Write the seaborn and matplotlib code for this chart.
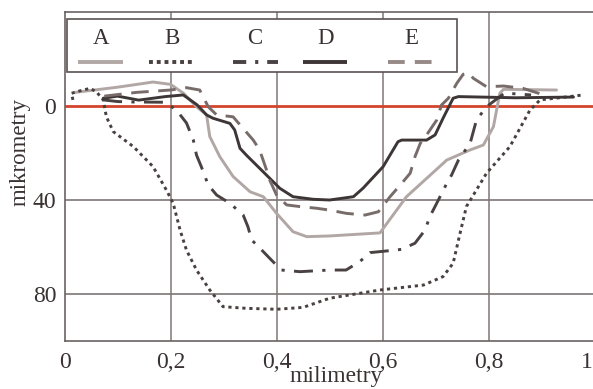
import numpy as np
import pandas as pd
import seaborn as sns
import matplotlib
matplotlib.use("Agg")
import matplotlib.pyplot as plt
import matplotlib.transforms as mtransforms
from matplotlib.lines import Line2D
from matplotlib.patches import Rectangle

# ---------------- data ----------------
series_names = ["A", "B", "C", "D", "E"]

A_x = [0.02, 0.1, 0.167, 0.2, 0.224, 0.249, 0.268, 0.274, 0.293, 0.318, 0.35, 0.375, 0.4, 0.431, 0.457, 0.5,
       0.595, 0.645, 0.721, 0.765, 0.79, 0.809, 0.821, 0.828, 0.928]
A_y = [-5.8, -8.0, -10.2, -9.2, -5.5, 0.3, 3.8, 13.0, 21.6, 30.0, 36.5, 38.6, 45.7, 53.5, 55.6, 55.3,
       54.0, 38.6, 23.0, 18.7, 16.6, 8.8, -5.4, -7.1, -6.8]

B_x = [0.016, 0.013, 0.03, 0.048, 0.06, 0.073, 0.079, 0.092, 0.13, 0.167, 0.192, 0.205, 0.218, 0.23, 0.249,
       0.274, 0.299, 0.343, 0.4, 0.45, 0.5, 0.595, 0.677, 0.714, 0.733, 0.746, 0.758, 0.796, 0.84, 0.878,
       0.897, 0.941, 0.978]
B_y = [-2.6, -5.4, -6.5, -7.5, -6.1, -2.6, 4.6, 10.9, 17.3, 25.8, 35.7, 41.4, 52.8, 61.3, 69.8,
       78.3, 85.4, 86.1, 86.5, 85.7, 81.8, 78.3, 76.2, 72.6, 66.9, 54.2, 42.8, 28.6, 17.3, 1.7,
       -2.6, -3.7, -4.7]

C_x = [0.073, 0.1, 0.13, 0.19, 0.211, 0.23, 0.243, 0.249, 0.258, 0.271, 0.287, 0.312, 0.337, 0.346, 0.353,
       0.372, 0.39, 0.409, 0.444, 0.5, 0.531, 0.557, 0.576, 0.611, 0.636, 0.661, 0.68, 0.689, 0.702,
       0.721, 0.73, 0.743, 0.765, 0.777, 0.796, 0.83, 0.88]
C_y = [-2.6, -1.9, -1.7, -1.6, 1.7, 7.2, 14.5, 20.9, 25.8, 33.6, 37.9, 41.4, 46.4, 51.4, 57.0,
       61.3, 65.5, 69.8, 70.5, 69.8, 69.8, 66.2, 62.4, 61.6, 61.0, 58.4, 52.8, 47.1, 41.4,
       32.9, 29.4, 23.0, 15.9, 6.0, 0.3, -5.5, -4.7]

D_x = [0.073, 0.1, 0.14, 0.19, 0.224, 0.25, 0.268, 0.28, 0.312, 0.321, 0.331, 0.343, 0.381, 0.406, 0.431,
       0.469, 0.5, 0.545, 0.563, 0.601, 0.629, 0.636, 0.683, 0.699, 0.714, 0.733, 0.743, 0.85, 0.96]
D_y = [-3.3, -4.2, -2.5, -4.0, -4.7, -0.5, 3.8, 5.2, 7.4, 10.2, 18.0, 20.9, 29.4, 35.0, 38.6,
       39.7, 40.0, 38.6, 35.0, 25.8, 15.2, 14.5, 14.5, 12.3, 5.2, -3.3, -4.0, -3.5, -3.8]

E_x = [0.075, 0.136, 0.2, 0.23, 0.255, 0.271, 0.287, 0.318, 0.334, 0.356, 0.368, 0.381, 0.387, 0.4, 0.419,
       0.444, 0.475, 0.5, 0.532, 0.567, 0.592, 0.614, 0.636, 0.652, 0.661, 0.671, 0.683, 0.702, 0.711,
       0.724, 0.74, 0.752, 0.762, 0.771, 0.796, 0.828, 0.865, 0.9]
E_y = [-4.2, -5.8, -6.8, -7.8, -6.8, 0.3, 3.8, 4.6, 8.8, 14.5, 18.7, 27.2, 31.5, 37.9, 42.1,
       42.8, 43.5, 44.3, 45.7, 46.4, 45.0, 38.6, 32.9, 28.6, 21.6, 15.9, 12.3, 6.0, -0.4,
       -3.3, -9.7, -13.5, -14.2, -11.8, -8.2, -8.5, -7.5, -5.0]

x_ticks = [0, 0.2, 0.4, 0.6, 0.8, 1.0]
x_tick_labels = ["0", "0,2", "0,4", "0,6", "0,8", "1"]
y_ticks = [0, 40, 80]
y_tick_labels = ["0", "40", "80"]

# ---------------- styling ----------------
sns.set_theme(style="white")
plt.rcParams["font.family"] = ["Liberation Serif", "DejaVu Serif"]

colors = {"A": "#b1a7a5", "B": "#4a4040", "C": "#4a4242", "D": "#3e3636", "E": "#786c6a"}
dashes_plot = {"A": None, "B": (1.1, 1.3), "C": (6.5, 3.2, 1.1, 3.2), "D": None, "E": (6.0, 3.3)}
dashes_leg = {"A": None, "B": (1.0, 1.0), "C": (3.4, 2.3, 0.8, 2.3), "D": None, "E": (4.3, 2.6)}
leg_colors = {"A": "#b1a7a5", "B": "#4a4040", "C": "#4a4242", "D": "#3e3636", "E": "#968a86"}

W, H = 593, 389
fig = plt.figure(figsize=(W / 100, H / 100), dpi=100)
ax = fig.add_axes([64.5 / W, 1 - 341 / H, (594.7 - 64.5) / W, (341 - 12) / H])

data = {"A": (A_x, A_y), "B": (B_x, B_y), "C": (C_x, C_y), "D": (D_x, D_y), "E": (E_x, E_y)}

# red zero line
ax.axhline(0, color="#d4442a", lw=2.0, zorder=2)

for name in series_names:
    xs, ys = data[name]
    df = pd.DataFrame({"x": xs, "y": ys})
    sns.lineplot(data=df, x="x", y="y", sort=False, estimator=None, ax=ax,
                 color=colors[name], lw=2.1, zorder=3)
    ln = ax.lines[-1]
    ln.set_solid_joinstyle("round")
    if dashes_plot[name] is not None:
        ln.set_dashes(dashes_plot[name])
        ln.set_dash_capstyle("butt")

ax.set_xlim(0, 1.0)
ax.set_ylim(100, -40)
ax.set_xticks(x_ticks)
ax.set_xticklabels(x_tick_labels)
ax.set_yticks(y_ticks)
ax.set_yticklabels(y_tick_labels)

# grid
for xv in [0.2, 0.4, 0.6, 0.8]:
    ax.axvline(xv, color="#8a8282", lw=1.2, zorder=1)
for yv in [40, 80]:
    ax.axhline(yv, color="#7e7676", lw=1.2, zorder=1)

for s in ["left", "bottom", "top"]:
    ax.spines[s].set_color("#6a6262")
    ax.spines[s].set_linewidth(1.2)
ax.spines["right"].set_visible(False)

ax.tick_params(axis="both", length=0, labelsize=17, colors="#3a3232")
ax.tick_params(axis="x", pad=8)
ax.tick_params(axis="y", pad=6)
xl = ax.get_xticklabels()
xl[-1].set_ha("right")
xl[-1].set_transform(xl[-1].get_transform() +
                     mtransforms.ScaledTranslation(-2 / 100, 0, fig.dpi_scale_trans))

ax.set_xlabel("milimetry", fontsize=17, color="#3a3232")
ax.set_ylabel("mikrometry", fontsize=16.5, color="#3a3232")
ax.xaxis.set_label_coords(0.513, -0.108)
ax.xaxis.label.set_va("center")
ax.yaxis.set_label_coords(-0.083, 0.574)
ax.yaxis.label.set_va("center")

# ---------------- legend (labels above handles, boxed) ----------------
def fx(px):
    return px / W

def fy(py):
    return 1 - py / H

rect = Rectangle((fx(67), fy(72)), fx(457) - fx(67), fy(19) - fy(72), transform=fig.transFigure,
                 facecolor="white", edgecolor="#5a5252", lw=1.2, zorder=10)
fig.patches.append(rect)

label_x = {"A": 101, "B": 172, "C": 255, "D": 326, "E": 411}
handle_span = {"A": (78, 123), "B": (149, 193), "C": (233, 278), "D": (303, 347), "E": (388, 432)}
for name in series_names:
    fig.text(fx(label_x[name]), fy(39), name, ha="center", va="center", fontsize=16.5,
             color="#3a3232", zorder=11)
    x0, x1 = handle_span[name]
    l = Line2D([fx(x0), fx(x1)], [fy(62), fy(62)], transform=fig.transFigure,
               color=leg_colors[name], lw=2.8, zorder=11, solid_capstyle="butt")
    if dashes_leg[name] is not None:
        l.set_dashes(dashes_leg[name])
        l.set_dash_capstyle("butt")
    fig.lines.append(l)

fig.savefig("out.png", dpi=100)
